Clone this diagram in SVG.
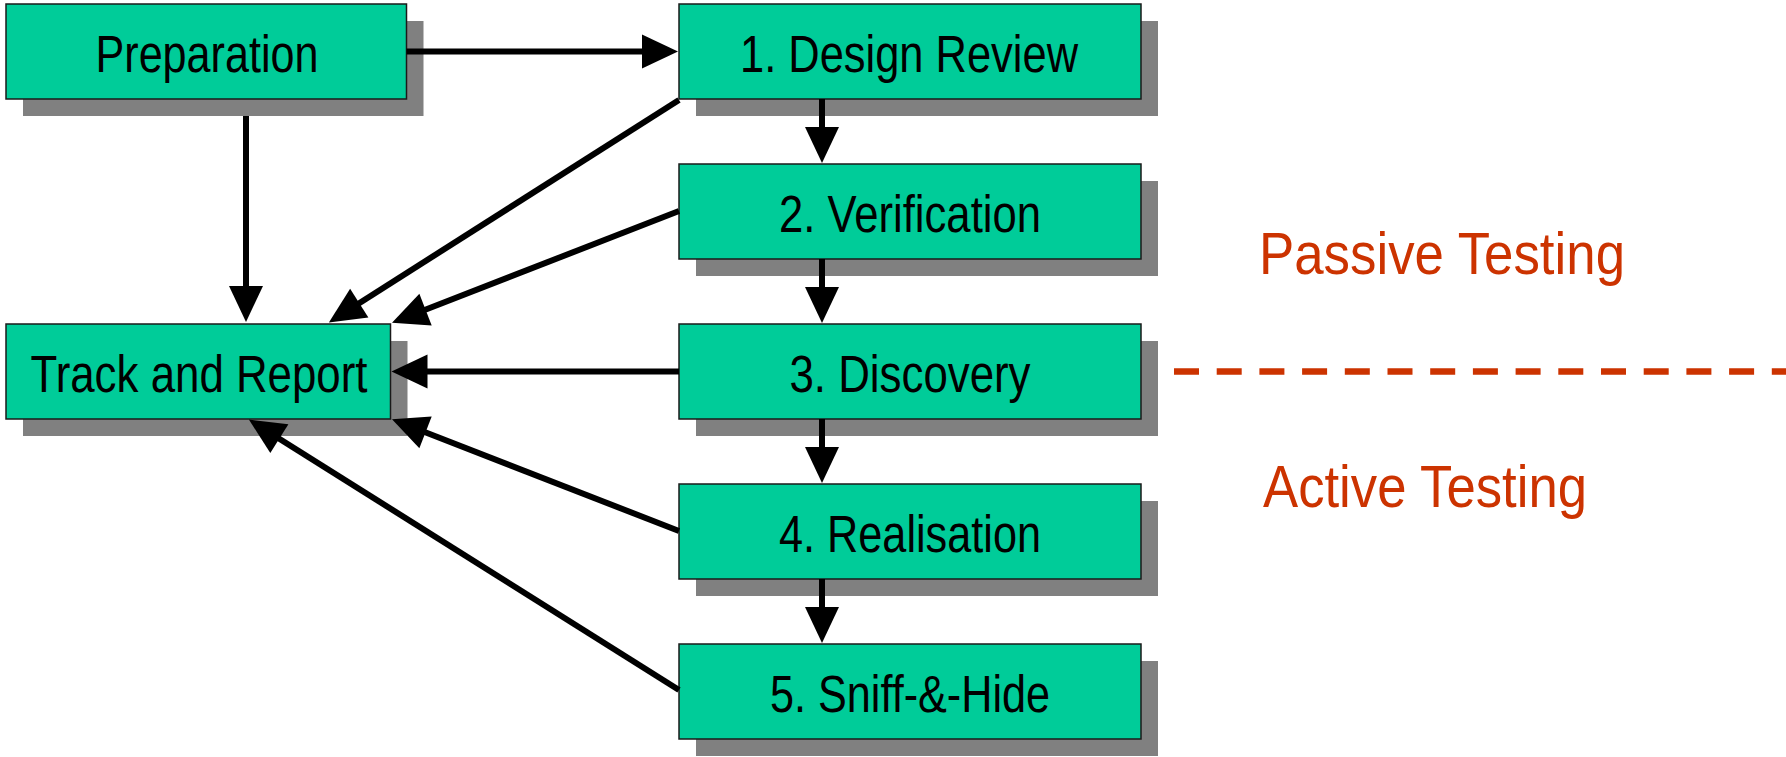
<svg xmlns="http://www.w3.org/2000/svg" width="1786" height="757" viewBox="0 0 1786 757">
<defs>
<marker id="ah" markerUnits="userSpaceOnUse" markerWidth="36" markerHeight="34" refX="1" refY="17" orient="auto" overflow="visible">
<path d="M0,0 L36,17 L0,34 z" fill="#000"/>
</marker>
<style>
.sh{fill:#808080;stroke:none}
.bx{fill:#00CC99;stroke:#1a1a1a;stroke-width:1.5}
.t{font-family:"Liberation Sans Narrow","Liberation Sans",Arial,sans-serif;font-size:51px;fill:#000;text-anchor:middle}
.r{font-family:"Liberation Sans Narrow","Liberation Sans",Arial,sans-serif;font-size:60px;fill:#CC3300}
.c{stroke:#000;stroke-width:6;fill:none;marker-end:url(#ah)}
</style>
</defs>
<rect width="1786" height="757" fill="#fff"/>
<g id="preparation">
<rect class="sh" x="23" y="21" width="400.5" height="95"/>
<rect class="bx" x="6" y="4" width="400.5" height="95"/>
<text class="t" x="207" y="72" textLength="223" lengthAdjust="spacingAndGlyphs">Preparation</text>
</g>
<g id="track">
<rect class="sh" x="23" y="341" width="384.5" height="95"/>
<rect class="bx" x="6" y="324" width="384.5" height="95"/>
<text class="t" x="199" y="392" textLength="337" lengthAdjust="spacingAndGlyphs">Track and Report</text>
</g>
<g id="design">
<rect class="sh" x="696" y="21" width="462" height="95"/>
<rect class="bx" x="679" y="4" width="462" height="95"/>
<text class="t" x="909" y="72" textLength="338" lengthAdjust="spacingAndGlyphs">1. Design Review</text>
</g>
<g id="verification">
<rect class="sh" x="696" y="181" width="462" height="95"/>
<rect class="bx" x="679" y="164" width="462" height="95"/>
<text class="t" x="910" y="232" textLength="262" lengthAdjust="spacingAndGlyphs">2. Verification</text>
</g>
<g id="discovery">
<rect class="sh" x="696" y="341" width="462" height="95"/>
<rect class="bx" x="679" y="324" width="462" height="95"/>
<text class="t" x="910" y="392" textLength="241" lengthAdjust="spacingAndGlyphs">3. Discovery</text>
</g>
<g id="realisation">
<rect class="sh" x="696" y="501" width="462" height="95"/>
<rect class="bx" x="679" y="484" width="462" height="95"/>
<text class="t" x="910" y="552" textLength="262" lengthAdjust="spacingAndGlyphs">4. Realisation</text>
</g>
<g id="sniff">
<rect class="sh" x="696" y="661" width="462" height="95"/>
<rect class="bx" x="679" y="644" width="462" height="95"/>
<text class="t" x="910" y="712" textLength="280" lengthAdjust="spacingAndGlyphs">5. Sniff-&amp;-Hide</text>
</g>
<g id="connectors">
<line class="c" x1="406.5" y1="51.5" x2="643" y2="51.5"/>
<line class="c" x1="246" y1="116" x2="246" y2="287"/>
<line class="c" x1="822" y1="99" x2="822" y2="128"/>
<line class="c" x1="822" y1="259" x2="822" y2="288"/>
<line class="c" x1="822" y1="419" x2="822" y2="448"/>
<line class="c" x1="822" y1="579" x2="822" y2="608"/>
<line class="c" x1="679" y1="100" x2="358.4" y2="303.7"/>
<line class="c" x1="679" y1="211" x2="424.6" y2="310"/>
<line class="c" x1="679" y1="371.5" x2="426.5" y2="371.5"/>
<line class="c" x1="679" y1="531" x2="424.6" y2="432"/>
<line class="c" x1="679" y1="690" x2="278.5" y2="438.2"/>
</g>
<g id="separator">
<line x1="1174" y1="371.5" x2="1786" y2="371.5" stroke="#CC3300" stroke-width="6.5" stroke-dasharray="25 17.7"/>
</g>
<g id="labels">
<text class="r" x="1259" y="274" textLength="366" lengthAdjust="spacingAndGlyphs">Passive Testing</text>
<text class="r" x="1263" y="507" textLength="324" lengthAdjust="spacingAndGlyphs">Active Testing</text>
</g>
</svg>
